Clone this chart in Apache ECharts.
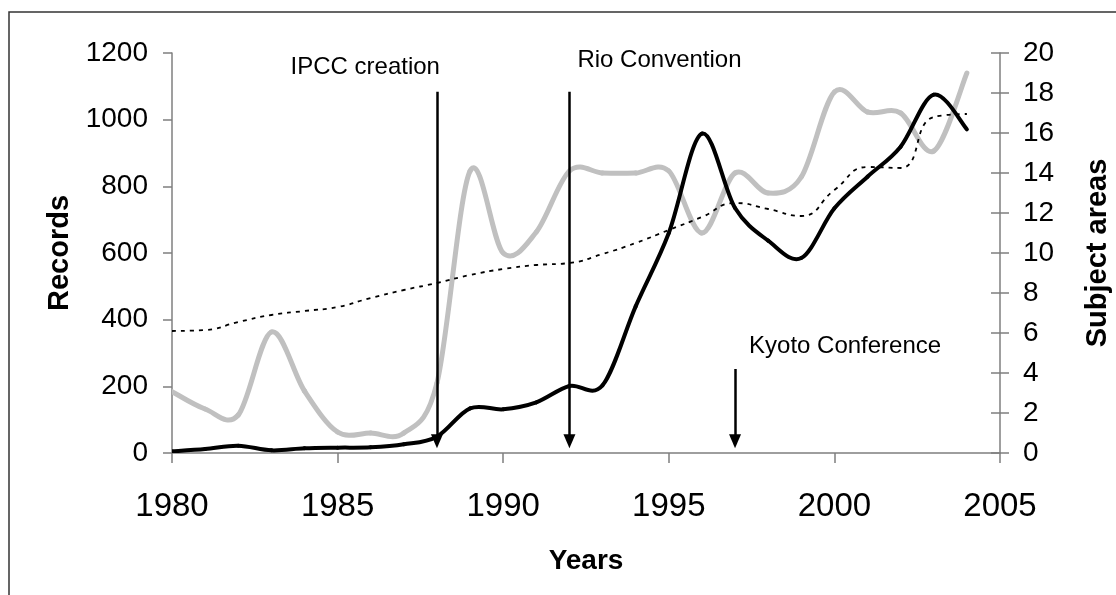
<!DOCTYPE html>
<html><head><meta charset="utf-8">
<script src="https://cdn.jsdelivr.net/npm/echarts@6/dist/echarts.min.js"></script>
<style>html,body{margin:0;padding:0;background:#fff}#c{width:1116px;height:595px}</style>
</head><body><div id="c"></div>
<script>
// ---- data ----
const years = [1980,1981,1982,1983,1984,1985,1986,1987,1988,1989,1990,1991,1992,1993,1994,1995,1996,1997,1998,1999,2000,2001,2002,2003,2004];
const records = [5,12,22,8,14,16,17,26,49,134,131,152,201,203,440,660,958,735,637,585,734,829,919,1075,971];
const subjectAreas = [3.07,2.2,1.9,6.05,3.1,1.05,1.0,1.0,3.5,14.1,10.0,11.05,14.1,14.0,14.0,14.1,11.0,14.0,13.0,13.8,18.05,17.05,17.0,15.1,19.0];
const subjectTrend = [6.1,6.15,6.55,6.9,7.1,7.3,7.75,8.15,8.5,8.9,9.2,9.4,9.5,9.95,10.5,11.15,11.8,12.5,12.2,11.85,13.15,14.3,14.25,16.8,16.95];
const eventNames = ['IPCC creation','Rio Convention','Kyoto Conference'];
const eventYears = [1988,1992,1997];
const eventTops = [1084,1084,252];

const FONT = 'Liberation Sans, Arial, sans-serif';
const pair = arr => years.map((y,i)=>[y,arr[i]]);
const axisGray = '#7f7f7f';
const plain = v => String(v);

// smooth curve (spreadsheet-style cardinal spline) drawn from the data via the axes' scales
function smoothSeries(name, yAxisIndex, values, style, z) {
  const n = values.length;
  return {
    name, type:'custom', yAxisIndex, z, silent:true, clip:true,
    data: pair(values),
    renderItem(params, api) {
      const i = params.dataIndex;
      if (i >= n - 1) return null;
      const P = k => { const j = Math.max(0, Math.min(n-1, k)); return api.coord([years[j], values[j]]); };
      const p0=P(i-1), p1=P(i), p2=P(i+1), p3=P(i+2);
      const f = 1/6;
      return {type:'bezierCurve',
        shape:{x1:p1[0], y1:p1[1], x2:p2[0], y2:p2[1],
               cpx1:p1[0]+(p2[0]-p0[0])*f, cpy1:p1[1]+(p2[1]-p0[1])*f,
               cpx2:p2[0]-(p3[0]-p1[0])*f, cpy2:p2[1]-(p3[1]-p1[1])*f},
        style:Object.assign({fill:null, lineCap:'round', lineJoin:'round'}, style)};
    }
  };
}

const option = {
  animation:false,
  backgroundColor:'#fff',
  grid:{left:172, top:53, width:828, height:400, containLabel:false, outerBoundsMode:'none'},
  xAxis:{
    type:'value', min:1980, max:2005, interval:5,
    name:'Years', nameLocation:'middle', nameGap:94,
    nameTextStyle:{fontFamily:FONT, fontSize:28, fontWeight:'bold', color:'#000'},
    axisLine:{lineStyle:{color:axisGray, width:1.5}},
    axisTick:{length:10, lineStyle:{color:axisGray, width:1.5}},
    axisLabel:{fontFamily:FONT, fontSize:33, color:'#000', margin:37, formatter:plain},
    splitLine:{show:false}
  },
  yAxis:[
    {type:'value', min:0, max:1200, interval:200, position:'left',
     name:'Records', nameLocation:'middle', nameGap:54, nameRotate:90,
     nameTextStyle:{fontFamily:FONT, fontSize:29, fontWeight:'bold', color:'#000'},
     axisLine:{show:true, lineStyle:{color:axisGray, width:1.5}},
     axisTick:{show:true, length:9, lineStyle:{color:axisGray, width:1.5}},
     axisLabel:{fontFamily:FONT, fontSize:28, color:'#000', margin:24, formatter:plain},
     splitLine:{show:false}},
    {type:'value', min:0, max:20, interval:2, position:'right',
     name:'Subject areas', nameLocation:'middle', nameGap:83, nameRotate:90,
     nameTextStyle:{fontFamily:FONT, fontSize:29, fontWeight:'bold', color:'#000'},
     axisLine:{show:true, lineStyle:{color:axisGray, width:1.5}},
     axisTick:{show:true, length:9, lineStyle:{color:axisGray, width:1.5}},
     axisLabel:{fontFamily:FONT, fontSize:28, color:'#000', margin:23, formatter:plain},
     splitLine:{show:false}},
    {type:'value', min:0, max:20, interval:2, position:'right',
     axisLine:{show:false}, axisLabel:{show:false}, splitLine:{show:false},
     axisTick:{show:true, inside:true, length:9, lineStyle:{color:axisGray, width:1.5}}}
  ],
  series:[
    smoothSeries('Subject areas', 1, subjectAreas, {stroke:'#c0c0c0', lineWidth:5}, 2),
    {name:'Trend', type:'line', yAxisIndex:1, data:pair(subjectTrend), smooth:0.5,
     showSymbol:false, lineStyle:{color:'#000', width:1.8, type:[4,5]}, z:3},
    smoothSeries('Records', 0, records, {stroke:'#000', lineWidth:4}, 4),
    {name:'Events', type:'line', yAxisIndex:0, data:[], z:5,
     markLine:{silent:true, symbol:['none','triangle'], symbolSize:[12,14], animation:false,
       label:{show:false}, lineStyle:{color:'#000', width:2.5, type:'solid'},
       data: eventYears.map((yr,i)=>[{coord:[yr,eventTops[i]]},{coord:[yr,35]}])}}
  ]
};
const chart = echarts.init(document.getElementById('c'));
chart.setOption(option);
const xp = yr => chart.convertToPixel({xAxisIndex:0, yAxisIndex:0},[yr,0])[0];
const labelStyle = {fontFamily:FONT, fontSize:24, fill:'#000', verticalAlign:'middle'};
chart.setOption({graphic:[
  {type:'rect', shape:{x:9, y:12, width:1200, height:700}, style:{fill:'none', stroke:'#333', lineWidth:1.5}, silent:true},
  {type:'text', x:xp(eventYears[0])+3, y:67, style:Object.assign({text:eventNames[0], align:'right'},labelStyle)},
  {type:'text', x:xp(eventYears[1])+8, y:60, style:Object.assign({text:eventNames[1], align:'left'},labelStyle)},
  {type:'text', x:xp(eventYears[2])+14, y:346, style:Object.assign({text:eventNames[2], align:'left'},labelStyle)}
]});
</script></body></html>
